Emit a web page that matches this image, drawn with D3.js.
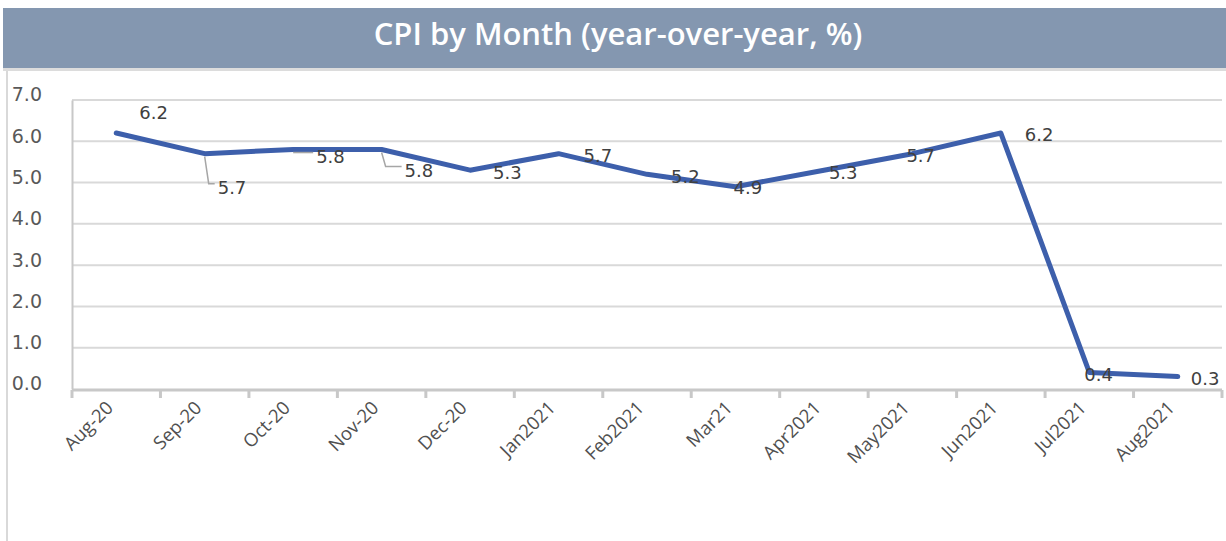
<!DOCTYPE html>
<html>
<head>
<meta charset="utf-8">
<script src="https://cdn.jsdelivr.net/npm/d3@7"></script>
<style>
  body { margin: 0; background: #fff; }
  svg { display: block; }
</style>
</head>
<body>
<svg id="chart" width="1226" height="541"></svg>
<script>
var months = [ "Aug-20", "Sep-20", "Oct-20", "Nov-20", "Dec-20", "Jan2021", "Feb2021",
    "Mar21", "Apr2021", "May2021", "Jun2021", "Jul2021", "Aug2021" ];
var cpi = [ 6.2, 5.7, 5.8, 5.8, 5.3, 5.7, 5.2, 4.9, 5.3, 5.7, 6.2, 0.4, 0.3 ];
var yTicks = [ 0, 1, 2, 3, 4, 5, 6, 7 ];
var title = "CPI by Month (year-over-year, %)";

// where each value label sits relative to its point (dx, dy), and leader lines
var labelOffsets = [ [ 23, -20 ], [ 13, 34 ], [ 23, 7 ], [ 23, 21 ], [ 23, 3 ], [ 25, 2 ],
    [ 24, 2 ], [ -2, 1 ], [ 5, 3 ], [ -6, 2 ], [ 24, 2 ], [ -5, 2 ], [ 13, 2 ] ];
var leaders = [ 1, 2, 3 ];

var svg = d3.select( "#chart" );
var margin = { top: 100, left: 72, right: 4, bottom: 152 };
var W = 1226, H = 541;

// banner
svg.append( "rect" )
    .attr( "x", 3 ).attr( "y", 8 )
    .attr( "width", W - 3 ).attr( "height", 60 )
    .style( "fill", "#8497b0" );
svg.append( "rect" )
    .attr( "x", 3 ).attr( "y", 68 )
    .attr( "width", W - 3 ).attr( "height", 3 )
    .style( "fill", "#dcdcdc" );
svg.append( "line" )
    .attr( "x1", 7 ).attr( "x2", 7 ).attr( "y1", 71 ).attr( "y2", H )
    .style( "stroke", "#d9d9d9" ).style( "stroke-width", 2 );
svg.append( "text" )
    .attr( "x", 618 ).attr( "y", 45 )
    .attr( "text-anchor", "middle" )
    .style( "font", "600 31px 'Open Sans', sans-serif" )
    .style( "fill", "white" )
    .text( title );

var x = d3.scaleBand()
    .domain( months )
    .range( [ margin.left, W - margin.right ] );
var y = d3.scaleLinear()
    .domain( [ 0, 7 ] )
    .range( [ 389, margin.top ] );

// gridlines
svg.append( "g" ).selectAll( "line" )
    .data( yTicks.slice( 1 ) )
    .enter().append( "line" )
    .attr( "x1", margin.left ).attr( "x2", W - margin.right )
    .attr( "y1", function ( d ) { return y( d ) } )
    .attr( "y2", function ( d ) { return y( d ) } )
    .style( "stroke", "#d9d9d9" ).style( "stroke-width", 2 );

// y axis
var yAxis = svg.append( "g" )
    .attr( "transform", "translate(" + margin.left + ",0)" )
    .call( d3.axisLeft( y ).tickValues( yTicks ).tickFormat( d3.format( ".1f" ) ).tickSize( 0 ) );
yAxis.select( ".domain" ).style( "stroke", "#c8c8c8" ).style( "stroke-width", 2 );
yAxis.selectAll( "text" )
    .attr( "x", -30 ).attr( "text-anchor", "end" )
    .attr( "dy", "0.05em" )
    .style( "font", "19px 'DejaVu Sans', sans-serif" )
    .style( "fill", "#595959" );

// x axis
var xAxis = svg.append( "g" )
    .attr( "transform", "translate(0,389)" )
    .call( d3.axisBottom( x ).tickSize( 0 ) );
xAxis.select( ".domain" ).remove();
svg.append( "line" )
    .attr( "x1", margin.left ).attr( "x2", W - margin.right )
    .attr( "y1", 390 ).attr( "y2", 390 )
    .style( "stroke", "#c8c8c8" ).style( "stroke-width", 3 );
svg.append( "g" ).selectAll( "line" )
    .data( months.concat( [ null ] ) )
    .enter().append( "line" )
    .attr( "x1", function ( d, i ) { return margin.left + i * x.step() } )
    .attr( "x2", function ( d, i ) { return margin.left + i * x.step() } )
    .attr( "y1", 390 ).attr( "y2", 398 )
    .style( "stroke", "#c8c8c8" ).style( "stroke-width", 3 );
xAxis.selectAll( "text" )
    .attr( "y", 0 ).attr( "dy", 0 )
    .attr( "text-anchor", "end" )
    .attr( "transform", "translate(-2,20) rotate(-45)" )
    .style( "font", "18.5px 'Open Sans', sans-serif" )
    .style( "fill", "#505050" );

// line
var cx = function ( d, i ) { return x( months[ i ] ) + x.bandwidth() / 2 };
var line = d3.line()
    .x( cx )
    .y( function ( d ) { return y( d ) } );
svg.append( "path" )
    .datum( cpi )
    .attr( "d", line )
    .style( "fill", "none" )
    .style( "stroke", "#3d5fab" )
    .style( "stroke-width", 5 )
    .style( "stroke-linejoin", "round" )
    .style( "stroke-linecap", "round" );

// leader lines
svg.append( "g" ).selectAll( "path" )
    .data( leaders )
    .enter().append( "path" )
    .attr( "d", function ( i ) {
        var px = cx( null, i ), py = y( cpi[ i ] ) + 3;
        var o = labelOffsets[ i ];
        var ly = py + o[ 1 ] - 7;
        return "M" + px + "," + py + "L" + ( px + 4 ) + "," + ly + "L" + ( px + o[ 0 ] - 3 ) + "," + ly;
    } )
    .style( "fill", "none" )
    .style( "stroke", "#a6a6a6" )
    .style( "stroke-width", 1.5 );

// value labels
svg.append( "g" ).selectAll( "text" )
    .data( cpi )
    .enter().append( "text" )
    .attr( "x", function ( d, i ) { return cx( d, i ) + labelOffsets[ i ][ 0 ] } )
    .attr( "y", function ( d, i ) { return y( d ) + labelOffsets[ i ][ 1 ] } )
    .attr( "dy", "0.35em" )
    .style( "font", "18px 'DejaVu Sans', sans-serif" )
    .style( "fill", "#404040" )
    .text( function ( d ) { return d3.format( ".1f" )( d ) } );
</script>
</body>
</html>
